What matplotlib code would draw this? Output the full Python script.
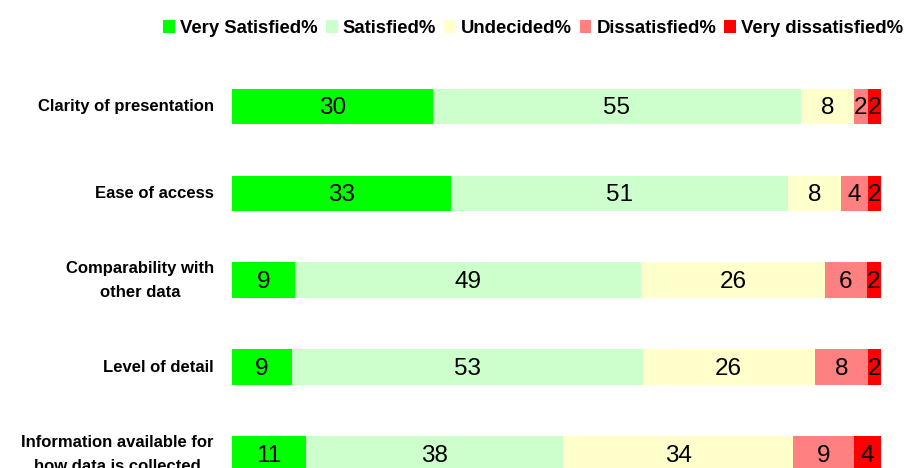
import numpy as np
import matplotlib
matplotlib.use("Agg")
import matplotlib.pyplot as plt
from matplotlib.patches import Patch

plt.rcParams['font.family'] = ['Liberation Sans', 'DejaVu Sans']

categories = ["Clarity of presentation", "Ease of access",
              "Comparability with\nother data", "Level of detail",
              "Information available for\nhow data is collected"]
series = ["Very Satisfied%", "Satisfied%", "Undecided%", "Dissatisfied%", "Very dissatisfied%"]
very_satisfied = [30, 33, 9, 9, 11]
satisfied = [55, 51, 49, 53, 38]
undecided = [8, 8, 26, 26, 34]
dissatisfied = [2, 4, 6, 8, 9]
very_dissatisfied = [2, 2, 2, 2, 4]
colors = ["#00FF00", "#CCFFCC", "#FFFFCC", "#FF8080", "#FF0000"]

values = np.array([very_satisfied, satisfied, undecided, dissatisfied, very_dissatisfied], dtype=float)
# 100% stacked: each row scaled to its own total
shares = values / values.sum(axis=0) * 100

fig = plt.figure(figsize=(9.05, 4.68), dpi=100)
ax = fig.add_axes([232/905, 1 - 497.5/468, 649/905, 434.5/468])

y = np.arange(len(categories))
left = np.zeros(len(categories))
for i in range(len(series)):
    bars = ax.barh(y, shares[i], left=left, height=0.41, color=colors[i], edgecolor='none')
    for j, b in enumerate(bars):
        ax.text(left[j] + shares[i][j] / 2, y[j] + 0.02, "%d" % values[i][j],
                ha='center', va='center', fontsize=17.5, color='black')
    left += shares[i]

ax.set_xlim(0, 100)
ax.set_ylim(len(categories) - 0.5, -0.5)
ax.set_yticks(y)
ax.set_yticklabels(categories, fontsize=12, fontweight='bold', multialignment='center',
                   linespacing=1.75, va='center')
ax.tick_params(axis='y', length=0, pad=13)
ax.set_xticks([])
for s in ax.spines.values():
    s.set_visible(False)

handles = [Patch(facecolor=c, edgecolor='none') for c in colors]
fig.legend(handles, series, loc='upper right', bbox_to_anchor=(1.0, 0.962), ncol=5,
           frameon=False, prop={'weight': 'bold', 'size': 13.3}, borderaxespad=0.0,
           borderpad=0.1, handlelength=0.64, handleheight=0.7, handletextpad=0.27,
           columnspacing=0.43)

fig.savefig("out.png", dpi=100)
